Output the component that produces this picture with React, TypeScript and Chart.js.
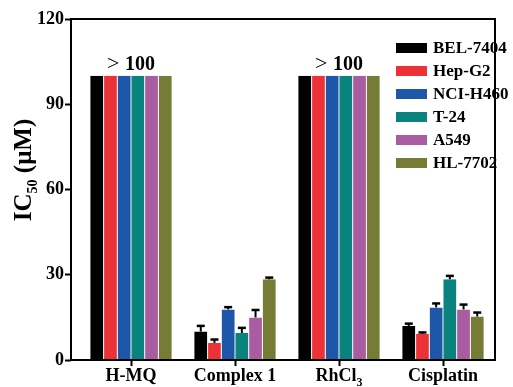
import React, { useEffect, useRef } from 'react';
import { Chart, registerables } from 'chart.js';
Chart.register(...registerables);

// ---- data ----
const categories = ['H-MQ', 'Complex 1', 'RhCl', 'Cisplatin'];
const categorySubscripts = ['', '', '3', ''];
const seriesNames = ['BEL-7404', 'Hep-G2', 'NCI-H460', 'T-24', 'A549', 'HL-7702'];
const seriesColors = ['#000000', '#ED3237', '#1E57A7', '#0A837F', '#A95CA0', '#767C36'];

const bel7404 = [100, 10.0, 100, 12.0];
const hepG2 = [100, 6.0, 100, 9.2];
const nciH460 = [100, 17.8, 100, 18.5];
const t24 = [100, 9.5, 100, 28.4];
const a549 = [100, 15.0, 100, 17.8];
const hl7702 = [100, 28.4, 100, 15.3];

const bel7404Err = [0, 2.0, 0, 0.8];
const hepG2Err = [0, 1.2, 0, 0.5];
const nciH460Err = [0, 0.8, 0, 1.4];
const t24Err = [0, 1.8, 0, 1.2];
const a549Err = [0, 2.6, 0, 1.7];
const hl7702Err = [0, 0.6, 0, 1.4];

const seriesValues = [bel7404, hepG2, nciH460, t24, a549, hl7702];
const seriesErrors = [bel7404Err, hepG2Err, nciH460Err, t24Err, a549Err, hl7702Err];

const yTicks = [0, 30, 60, 90, 120];
const overLimit = 100;
const overSymbol = '>';
const overText = '100';
const yTitleMain = 'IC';
const yTitleSub = '50';
const yTitleRest = ' (\u03BCM)';

const FONT = "'Liberation Serif', 'Times New Roman', serif";

export default function App() {
  const ref = useRef<HTMLCanvasElement | null>(null);

  useEffect(() => {
    const canvas = ref.current;
    if (!canvas) return;

    const overlay = {
      id: 'overlay',
      afterDatasetsDraw(chart: any) {
        const ctx = chart.ctx;
        const ys = chart.scales.y;
        ctx.save();
        ctx.strokeStyle = '#000';
        ctx.lineWidth = 2;
        seriesErrors.forEach((errs, di) => {
          const meta = chart.getDatasetMeta(di);
          errs.forEach((e, j) => {
            if (!e) return;
            const el = meta.data[j];
            const yTop = ys.getPixelForValue(seriesValues[di][j]);
            const yE = ys.getPixelForValue(seriesValues[di][j] + e);
            ctx.beginPath();
            ctx.moveTo(el.x, yTop);
            ctx.lineTo(el.x, yE);
            ctx.stroke();
            ctx.lineWidth = 2.5;
            ctx.beginPath();
            ctx.moveTo(el.x - 4, yE);
            ctx.lineTo(el.x + 4, yE);
            ctx.stroke();
            ctx.lineWidth = 2;
          });
        });
        ctx.restore();
      },
      afterDraw(chart: any) {
        const ctx = chart.ctx;
        const { left, right, top, bottom } = chart.chartArea;
        const xs = chart.scales.x;
        const ys = chart.scales.y;
        ctx.save();
        // frame
        ctx.strokeStyle = '#000';
        ctx.lineWidth = 2;
        ctx.strokeRect(left, top, right - left, bottom - top);

        // x labels
        ctx.fillStyle = '#000';
        ctx.textBaseline = 'alphabetic';
        categories.forEach((c, i) => {
          const x = xs.getPixelForValue(i + 1);
          ctx.font = `bold 18px ${FONT}`;
          const w1 = ctx.measureText(c).width;
          ctx.font = `bold 12px ${FONT}`;
          const w2 = categorySubscripts[i] ? ctx.measureText(categorySubscripts[i]).width : 0;
          const x0 = x - (w1 + w2) / 2;
          ctx.font = `bold 18px ${FONT}`;
          ctx.textAlign = 'left';
          ctx.fillText(c, x0, 381);
          if (w2) {
            ctx.font = `bold 12px ${FONT}`;
            ctx.fillText(categorySubscripts[i], x0 + w1, 386);
          }
        });

        // "> 100" labels
        categories.forEach((_, i) => {
          if (!seriesValues.every((s) => s[i] >= overLimit)) return;
          const x = xs.getPixelForValue(i + 1);
          const y = ys.getPixelForValue(overLimit) - 6;
          ctx.font = `22px ${FONT}`;
          const w1 = ctx.measureText(overSymbol + ' ').width;
          ctx.font = `bold 20px ${FONT}`;
          const w2 = ctx.measureText(overText).width;
          const x0 = x - (w1 + w2) / 2;
          ctx.textAlign = 'left';
          ctx.font = `22px ${FONT}`;
          ctx.fillText(overSymbol, x0, y);
          ctx.font = `bold 20px ${FONT}`;
          ctx.fillText(overText, x0 + w1, y);
        });

        // y title
        ctx.save();
        ctx.translate(31, 170);
        ctx.rotate(-Math.PI / 2);
        ctx.font = `bold 25px ${FONT}`;
        const a = ctx.measureText(yTitleMain).width;
        const c2 = ctx.measureText(yTitleRest).width;
        ctx.font = `bold 14px ${FONT}`;
        const b = ctx.measureText(yTitleSub).width;
        let tx = -(a + b + c2) / 2;
        ctx.textAlign = 'left';
        ctx.font = `bold 25px ${FONT}`;
        ctx.fillText(yTitleMain, tx, 0);
        tx += a;
        ctx.font = `bold 14px ${FONT}`;
        ctx.fillText(yTitleSub, tx, 6);
        tx += b;
        ctx.font = `bold 25px ${FONT}`;
        ctx.fillText(yTitleRest, tx, 0);
        ctx.restore();

        // legend
        ctx.textBaseline = 'middle';
        ctx.textAlign = 'left';
        ctx.font = `bold 17px ${FONT}`;
        seriesNames.forEach((n, i) => {
          const cy = 48 + i * 23;
          ctx.fillStyle = seriesColors[i];
          ctx.fillRect(396, cy - 5, 31, 10);
          ctx.fillStyle = '#000';
          ctx.fillText(n, 433, cy + 1);
        });
        ctx.restore();
      },
    };

    const chart = new Chart(canvas, {
      type: 'bar',
      data: {
        datasets: seriesNames.map((name, di) => ({
          label: name,
          data: seriesValues[di].map((v, i) => ({ x: i + 1, y: v })),
          backgroundColor: seriesColors[di],
          borderColor: 'rgba(235,235,235,0.9)',
          borderWidth: { left: 0.5, right: 0.5, top: 0, bottom: 0 },
          categoryPercentage: 0.79,
          barPercentage: 1.0,
          grouped: true,
        })),
      },
      options: {
        animation: false,
        responsive: false,
        maintainAspectRatio: false,
        layout: { padding: { left: 0, right: 18, top: 19, bottom: 0 } },
        plugins: { legend: { display: false }, tooltip: { enabled: false } },
        scales: {
          x: {
            type: 'linear',
            offset: false,
            min: 0.423,
            max: 4.5,
            afterBuildTicks: (s: any) => {
              s.ticks = categories.map((_, i) => ({ value: i + 1 }));
            },
            afterFit: (s: any) => {
              s.height = 27;
            },
            ticks: { callback: () => '', autoSkip: false },
            grid: {
              offset: false,
              drawOnChartArea: false,
              drawTicks: true,
              tickLength: 6,
              tickWidth: 2,
              tickColor: '#000',
            },
            border: { display: false },
          },
          y: {
            type: 'linear',
            min: yTicks[0],
            max: yTicks[yTicks.length - 1],
            afterBuildTicks: (s: any) => {
              s.ticks = yTicks.map((v) => ({ value: v }));
            },
            afterFit: (s: any) => {
              s.width = 71;
            },
            ticks: {
              color: '#000',
              font: { family: FONT, size: 18, weight: 'bold' },
              padding: 1,
            },
            grid: {
              drawOnChartArea: false,
              drawTicks: true,
              tickLength: 6,
              tickWidth: 2,
              tickColor: '#000',
            },
            border: { display: false },
          },
        },
      },
      plugins: [overlay],
    } as any);

    return () => chart.destroy();
  }, []);

  return (
    <div style={{ position: 'fixed', left: 0, top: 0, width: 513, height: 387, background: '#fff' }}>
      <canvas ref={ref} width={513} height={387} style={{ width: 513, height: 387 }} />
    </div>
  );
}
